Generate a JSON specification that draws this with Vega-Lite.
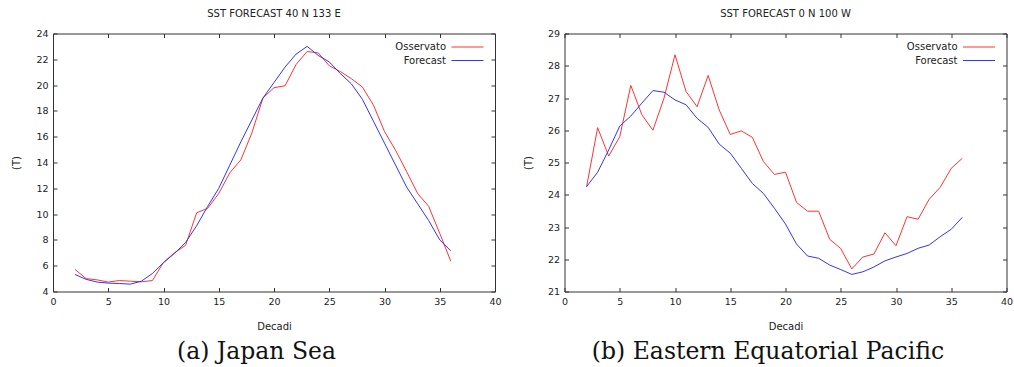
{
  "$schema": "https://vega.github.io/schema/vega-lite/v6.json",
  "background": "white",
  "padding": {"left": 11, "top": 7.5, "right": 5, "bottom": 0},
  "config": {
    "font": "DejaVu Sans",
    "view": {"stroke": "#333", "strokeWidth": 1},
    "axis": {"grid": false, "domain": false, "tickSize": -4, "tickColor": "#333", "tickWidth": 1, "labelPadding": 9, "labelFlush": false, "labelFont": "DejaVu Sans", "labelFontSize": 9.5, "labelColor": "#222", "titleFont": "DejaVu Sans", "titleFontSize": 10, "titleFontWeight": "normal", "titleColor": "#222"},
    "title": {"font": "DejaVu Sans", "fontSize": 10, "fontWeight": "normal", "color": "#222"},
    "legend": {"padding": 0}
  },
  "datasets": {
    "japan": [
      {"decade": 2, "serie": "Osservato", "T": 5.71}, {"decade": 3, "serie": "Osservato", "T": 5.0}, {"decade": 4, "serie": "Osservato", "T": 4.9}, {"decade": 5, "serie": "Osservato", "T": 4.73}, {"decade": 6, "serie": "Osservato", "T": 4.85}, {"decade": 7, "serie": "Osservato", "T": 4.8}, {"decade": 8, "serie": "Osservato", "T": 4.75}, {"decade": 9, "serie": "Osservato", "T": 4.85}, {"decade": 10, "serie": "Osservato", "T": 6.26}, {"decade": 11, "serie": "Osservato", "T": 7.0}, {"decade": 12, "serie": "Osservato", "T": 7.58}, {"decade": 13, "serie": "Osservato", "T": 10.1}, {"decade": 14, "serie": "Osservato", "T": 10.45}, {"decade": 15, "serie": "Osservato", "T": 11.6}, {"decade": 16, "serie": "Osservato", "T": 13.2}, {"decade": 17, "serie": "Osservato", "T": 14.2}, {"decade": 18, "serie": "Osservato", "T": 16.3}, {"decade": 19, "serie": "Osservato", "T": 19.0}, {"decade": 20, "serie": "Osservato", "T": 19.8}, {"decade": 21, "serie": "Osservato", "T": 19.95}, {"decade": 22, "serie": "Osservato", "T": 21.6}, {"decade": 23, "serie": "Osservato", "T": 22.6}, {"decade": 24, "serie": "Osservato", "T": 22.5}, {"decade": 25, "serie": "Osservato", "T": 21.5}, {"decade": 26, "serie": "Osservato", "T": 21.05}, {"decade": 27, "serie": "Osservato", "T": 20.5}, {"decade": 28, "serie": "Osservato", "T": 19.85}, {"decade": 29, "serie": "Osservato", "T": 18.45}, {"decade": 30, "serie": "Osservato", "T": 16.4}, {"decade": 31, "serie": "Osservato", "T": 14.95}, {"decade": 32, "serie": "Osservato", "T": 13.3}, {"decade": 33, "serie": "Osservato", "T": 11.6}, {"decade": 34, "serie": "Osservato", "T": 10.6}, {"decade": 35, "serie": "Osservato", "T": 8.5}, {"decade": 36, "serie": "Osservato", "T": 6.35},
      {"decade": 2, "serie": "Forecast", "T": 5.32}, {"decade": 3, "serie": "Forecast", "T": 4.94}, {"decade": 4, "serie": "Forecast", "T": 4.73}, {"decade": 5, "serie": "Forecast", "T": 4.65}, {"decade": 6, "serie": "Forecast", "T": 4.62}, {"decade": 7, "serie": "Forecast", "T": 4.57}, {"decade": 8, "serie": "Forecast", "T": 4.8}, {"decade": 9, "serie": "Forecast", "T": 5.4}, {"decade": 10, "serie": "Forecast", "T": 6.23}, {"decade": 11, "serie": "Forecast", "T": 6.96}, {"decade": 12, "serie": "Forecast", "T": 7.8}, {"decade": 13, "serie": "Forecast", "T": 9.1}, {"decade": 14, "serie": "Forecast", "T": 10.6}, {"decade": 15, "serie": "Forecast", "T": 12.0}, {"decade": 16, "serie": "Forecast", "T": 13.8}, {"decade": 17, "serie": "Forecast", "T": 15.6}, {"decade": 18, "serie": "Forecast", "T": 17.3}, {"decade": 19, "serie": "Forecast", "T": 19.0}, {"decade": 20, "serie": "Forecast", "T": 20.2}, {"decade": 21, "serie": "Forecast", "T": 21.4}, {"decade": 22, "serie": "Forecast", "T": 22.4}, {"decade": 23, "serie": "Forecast", "T": 23.0}, {"decade": 24, "serie": "Forecast", "T": 22.3}, {"decade": 25, "serie": "Forecast", "T": 21.8}, {"decade": 26, "serie": "Forecast", "T": 20.9}, {"decade": 27, "serie": "Forecast", "T": 20.1}, {"decade": 28, "serie": "Forecast", "T": 18.9}, {"decade": 29, "serie": "Forecast", "T": 17.2}, {"decade": 30, "serie": "Forecast", "T": 15.5}, {"decade": 31, "serie": "Forecast", "T": 13.8}, {"decade": 32, "serie": "Forecast", "T": 12.1}, {"decade": 33, "serie": "Forecast", "T": 10.8}, {"decade": 34, "serie": "Forecast", "T": 9.5}, {"decade": 35, "serie": "Forecast", "T": 8.0}, {"decade": 36, "serie": "Forecast", "T": 7.15}
    ],
    "pacific": [
      {"decade": 2, "serie": "Osservato", "T": 24.25}, {"decade": 3, "serie": "Osservato", "T": 26.08}, {"decade": 4, "serie": "Osservato", "T": 25.2}, {"decade": 5, "serie": "Osservato", "T": 25.8}, {"decade": 6, "serie": "Osservato", "T": 27.39}, {"decade": 7, "serie": "Osservato", "T": 26.48}, {"decade": 8, "serie": "Osservato", "T": 26.0}, {"decade": 9, "serie": "Osservato", "T": 26.99}, {"decade": 10, "serie": "Osservato", "T": 28.34}, {"decade": 11, "serie": "Osservato", "T": 27.2}, {"decade": 12, "serie": "Osservato", "T": 26.73}, {"decade": 13, "serie": "Osservato", "T": 27.7}, {"decade": 14, "serie": "Osservato", "T": 26.63}, {"decade": 15, "serie": "Osservato", "T": 25.87}, {"decade": 16, "serie": "Osservato", "T": 25.98}, {"decade": 17, "serie": "Osservato", "T": 25.78}, {"decade": 18, "serie": "Osservato", "T": 25.03}, {"decade": 19, "serie": "Osservato", "T": 24.63}, {"decade": 20, "serie": "Osservato", "T": 24.7}, {"decade": 21, "serie": "Osservato", "T": 23.76}, {"decade": 22, "serie": "Osservato", "T": 23.49}, {"decade": 23, "serie": "Osservato", "T": 23.49}, {"decade": 24, "serie": "Osservato", "T": 22.62}, {"decade": 25, "serie": "Osservato", "T": 22.33}, {"decade": 26, "serie": "Osservato", "T": 21.7}, {"decade": 27, "serie": "Osservato", "T": 22.07}, {"decade": 28, "serie": "Osservato", "T": 22.16}, {"decade": 29, "serie": "Osservato", "T": 22.82}, {"decade": 30, "serie": "Osservato", "T": 22.42}, {"decade": 31, "serie": "Osservato", "T": 23.32}, {"decade": 32, "serie": "Osservato", "T": 23.24}, {"decade": 33, "serie": "Osservato", "T": 23.86}, {"decade": 34, "serie": "Osservato", "T": 24.23}, {"decade": 35, "serie": "Osservato", "T": 24.82}, {"decade": 36, "serie": "Osservato", "T": 25.13},
      {"decade": 2, "serie": "Forecast", "T": 24.25}, {"decade": 3, "serie": "Forecast", "T": 24.7}, {"decade": 4, "serie": "Forecast", "T": 25.39}, {"decade": 5, "serie": "Forecast", "T": 26.13}, {"decade": 6, "serie": "Forecast", "T": 26.44}, {"decade": 7, "serie": "Forecast", "T": 26.84}, {"decade": 8, "serie": "Forecast", "T": 27.23}, {"decade": 9, "serie": "Forecast", "T": 27.18}, {"decade": 10, "serie": "Forecast", "T": 26.94}, {"decade": 11, "serie": "Forecast", "T": 26.79}, {"decade": 12, "serie": "Forecast", "T": 26.37}, {"decade": 13, "serie": "Forecast", "T": 26.09}, {"decade": 14, "serie": "Forecast", "T": 25.57}, {"decade": 15, "serie": "Forecast", "T": 25.29}, {"decade": 16, "serie": "Forecast", "T": 24.82}, {"decade": 17, "serie": "Forecast", "T": 24.35}, {"decade": 18, "serie": "Forecast", "T": 24.04}, {"decade": 19, "serie": "Forecast", "T": 23.58}, {"decade": 20, "serie": "Forecast", "T": 23.09}, {"decade": 21, "serie": "Forecast", "T": 22.47}, {"decade": 22, "serie": "Forecast", "T": 22.1}, {"decade": 23, "serie": "Forecast", "T": 22.03}, {"decade": 24, "serie": "Forecast", "T": 21.82}, {"decade": 25, "serie": "Forecast", "T": 21.68}, {"decade": 26, "serie": "Forecast", "T": 21.53}, {"decade": 27, "serie": "Forecast", "T": 21.61}, {"decade": 28, "serie": "Forecast", "T": 21.76}, {"decade": 29, "serie": "Forecast", "T": 21.95}, {"decade": 30, "serie": "Forecast", "T": 22.07}, {"decade": 31, "serie": "Forecast", "T": 22.18}, {"decade": 32, "serie": "Forecast", "T": 22.34}, {"decade": 33, "serie": "Forecast", "T": 22.44}, {"decade": 34, "serie": "Forecast", "T": 22.7}, {"decade": 35, "serie": "Forecast", "T": 22.93}, {"decade": 36, "serie": "Forecast", "T": 23.3}
    ]
  },
  "spacing": 20.5,
  "hconcat": [
    {
      "title": {"text": "(a) Japan Sea", "orient": "bottom", "anchor": "middle", "frame": "bounds", "font": "DejaVu Serif", "fontSize": 23.5, "color": "#111", "offset": 8},
      "vconcat": [
        {
          "title": {"text": "SST FORECAST 40 N 133 E", "anchor": "middle", "frame": "group", "offset": 10},
          "width": 442, "height": 258,
          "data": {"name": "japan"},
          "layer": [
            {
              "mark": {"type": "line", "strokeWidth": 1},
              "encoding": {
                "x": {"field": "decade", "type": "quantitative", "scale": {"domain": [0, 40], "nice": false, "zero": false}, "axis": {"title": "Decadi", "values": [0, 5, 10, 15, 20, 25, 30, 35, 40], "titlePadding": 15}},
                "y": {"field": "T", "type": "quantitative", "scale": {"domain": [4, 24], "nice": false, "zero": false}, "axis": {"title": "(T)", "values": [4, 6, 8, 10, 12, 14, 16, 18, 20, 22, 24], "titlePadding": 14}},
                "color": {"field": "serie", "type": "nominal", "scale": {"domain": ["Osservato", "Forecast"], "range": ["#ff3333", "#3333ff"]},
                  "legend": {"title": null, "orient": "none", "legendX": 409, "legendY": 8, "symbolType": "M-3.2,0H3.2", "symbolSize": 100, "symbolStrokeWidth": 1, "labelAlign": "right", "labelOffset": -27, "labelFontSize": 10, "labelColor": "#222", "rowPadding": 2.5}}
              }
            },
            {
              "mark": {"type": "line", "opacity": 0},
              "encoding": {
                "x": {"field": "decade", "type": "quantitative", "scale": {"domain": [0, 40], "nice": false, "zero": false}, "axis": {"orient": "top", "labels": false, "title": null, "values": [0, 5, 10, 15, 20, 25, 30, 35, 40]}},
                "y": {"field": "T", "type": "quantitative", "scale": {"domain": [4, 24], "nice": false, "zero": false}, "axis": {"orient": "right", "labels": false, "title": null, "values": [4, 6, 8, 10, 12, 14, 16, 18, 20, 22, 24]}}
              }
            }
          ],
          "resolve": {"axis": {"x": "independent", "y": "independent"}}
        }
      ]
    },
    {
      "title": {"text": "(b) Eastern Equatorial Pacific", "orient": "bottom", "anchor": "middle", "frame": "bounds", "font": "DejaVu Serif", "fontSize": 23.5, "color": "#111", "offset": 8},
      "vconcat": [
        {
          "title": {"text": "SST FORECAST 0 N 100 W", "anchor": "middle", "frame": "group", "offset": 10},
          "width": 442, "height": 258,
          "data": {"name": "pacific"},
          "layer": [
            {
              "mark": {"type": "line", "strokeWidth": 1},
              "encoding": {
                "x": {"field": "decade", "type": "quantitative", "scale": {"domain": [0, 40], "nice": false, "zero": false}, "axis": {"title": "Decadi", "values": [0, 5, 10, 15, 20, 25, 30, 35, 40], "titlePadding": 15}},
                "y": {"field": "T", "type": "quantitative", "scale": {"domain": [21, 29], "nice": false, "zero": false}, "axis": {"title": "(T)", "values": [21, 22, 23, 24, 25, 26, 27, 28, 29], "titlePadding": 14}},
                "color": {"field": "serie", "type": "nominal", "scale": {"domain": ["Osservato", "Forecast"], "range": ["#ff3333", "#3333ff"]},
                  "legend": {"title": null, "orient": "none", "legendX": 409, "legendY": 8, "symbolType": "M-3.2,0H3.2", "symbolSize": 100, "symbolStrokeWidth": 1, "labelAlign": "right", "labelOffset": -27, "labelFontSize": 10, "labelColor": "#222", "rowPadding": 2.5}}
              }
            },
            {
              "mark": {"type": "line", "opacity": 0},
              "encoding": {
                "x": {"field": "decade", "type": "quantitative", "scale": {"domain": [0, 40], "nice": false, "zero": false}, "axis": {"orient": "top", "labels": false, "title": null, "values": [0, 5, 10, 15, 20, 25, 30, 35, 40]}},
                "y": {"field": "T", "type": "quantitative", "scale": {"domain": [21, 29], "nice": false, "zero": false}, "axis": {"orient": "right", "labels": false, "title": null, "values": [21, 22, 23, 24, 25, 26, 27, 28, 29]}}
              }
            }
          ],
          "resolve": {"axis": {"x": "independent", "y": "independent"}}
        }
      ]
    }
  ],
  "resolve": {"scale": {"color": "independent"}}
}
